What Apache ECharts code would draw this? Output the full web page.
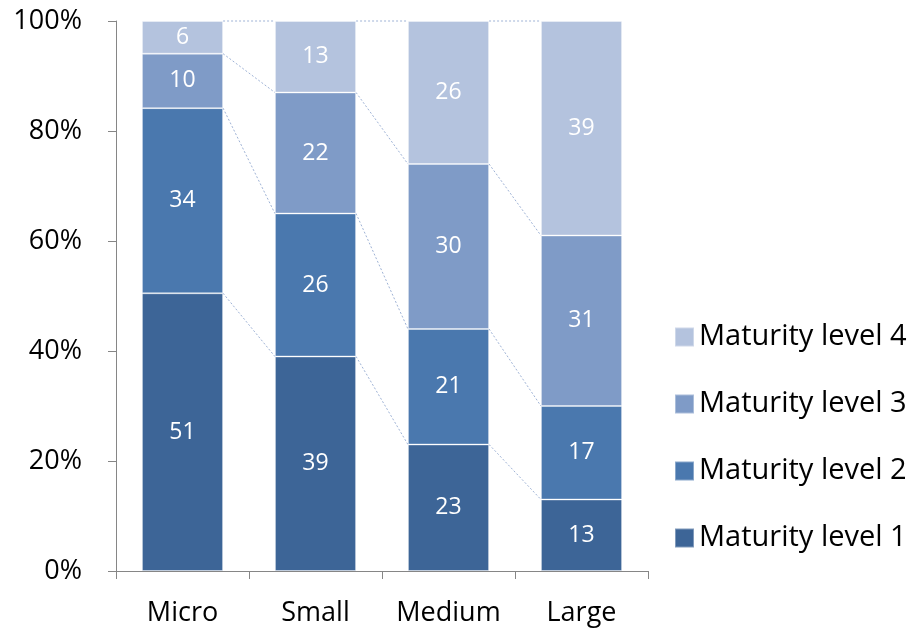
<!DOCTYPE html>
<html>
<head>
<meta charset="utf-8">
<script src="https://cdn.jsdelivr.net/npm/echarts@6/dist/echarts.min.js"></script>
<style>
  html, body { margin: 0; padding: 0; background: #fff; }
  #chart { width: 917px; height: 633px; }
</style>
</head>
<body>
<div id="chart"></div>
<script>
// Company size categories and the share of firms at each maturity level
const categories = ['Micro', 'Small', 'Medium', 'Large'];
const level1 = [51, 39, 23, 13];
const level2 = [34, 26, 21, 17];
const level3 = [10, 22, 30, 31];
const level4 = [6, 13, 26, 39];
const seriesNames = ['Maturity level 1', 'Maturity level 2', 'Maturity level 3', 'Maturity level 4'];
const colors = ['#3D6597', '#4A78AE', '#7F9BC7', '#B4C3DE'];

const FONT = '"Open Sans", Lato, sans-serif';
const levels = [level1, level2, level3, level4];

// 100% stacking: each category column is scaled to its own total
const totals = categories.map((_, i) => levels.reduce((s, arr) => s + arr[i], 0));
const pct = levels.map(arr => arr.map((v, i) => v / totals[i] * 100));

// Cumulative tops of each level, used for the connector lines between bars
const cumTops = levels.map((_, s) =>
  categories.map((_, i) => pct.slice(0, s + 1).reduce((acc, arr) => acc + arr[i], 0)));

const BAR_RATIO = 0.61;

const barSeries = levels.map((arr, s) => ({
  name: seriesNames[s],
  type: 'bar',
  stack: 'total',
  barWidth: (BAR_RATIO * 100) + '%',
  data: pct[s].map((p, i) => ({ value: p, raw: arr[i] })),
  itemStyle: { color: colors[s], borderColor: 'rgba(255,255,255,0.35)', borderWidth: 1 },
  label: {
    show: true,
    position: 'inside',
    color: '#fff',
    fontFamily: FONT,
    fontSize: 23,
    formatter: p => p.data.raw
  },
  z: 3
}));

// Connector (series) lines from each segment top to the same segment in the next bar
const connectorData = [];
cumTops.forEach(tops => {
  for (let i = 0; i < categories.length - 1; i++) {
    connectorData.push([i, tops[i], tops[i + 1]]);
  }
});

const connectorSeries = {
  type: 'custom',
  name: 'connectors',
  silent: true,
  z: 2,
  data: connectorData,
  encode: { x: 0, y: [1, 2] },
  renderItem: (params, api) => {
    const i = api.value(0);
    const a = api.coord([i, api.value(1)]);
    const b = api.coord([i + 1, api.value(2)]);
    const half = api.size([1, 0])[0] * BAR_RATIO / 2;
    return {
      type: 'line',
      shape: { x1: a[0] + half, y1: a[1], x2: b[0] - half, y2: b[1] },
      style: { stroke: '#9FB3D6', lineWidth: 1, lineDash: [2, 2] }
    };
  }
};

const chart = echarts.init(document.getElementById('chart'));
chart.setOption({
  backgroundColor: '#fff',
  animation: false,
  grid: { left: 116, right: 269, top: 21, bottom: 62 },
  legend: {
    orient: 'vertical',
    left: 669,
    top: 317,
    data: seriesNames.slice().reverse(),
    icon: 'rect',
    itemWidth: 19,
    itemHeight: 19,
    itemGap: 37,
    textStyle: { fontFamily: FONT, fontSize: 29, lineHeight: 30, color: '#000' }
  },
  xAxis: {
    type: 'category',
    data: categories,
    axisLine: { lineStyle: { color: '#868686', width: 1 } },
    axisTick: { show: true, length: 8, interval: 0, alignWithLabel: false, lineStyle: { color: '#868686' } },
    axisLabel: { interval: 0, fontFamily: FONT, fontSize: 27, color: '#000', margin: 29 }
  },
  yAxis: {
    type: 'value',
    min: 0,
    max: 100,
    interval: 20,
    axisLine: { show: true, lineStyle: { color: '#868686', width: 1 } },
    axisTick: { show: true, length: 8, lineStyle: { color: '#868686' } },
    splitLine: { show: false },
    axisLabel: { formatter: '{value}%', fontFamily: FONT, fontSize: 27, color: '#000', margin: 34 }
  },
  series: [connectorSeries, ...barSeries]
});
</script>
</body>
</html>
